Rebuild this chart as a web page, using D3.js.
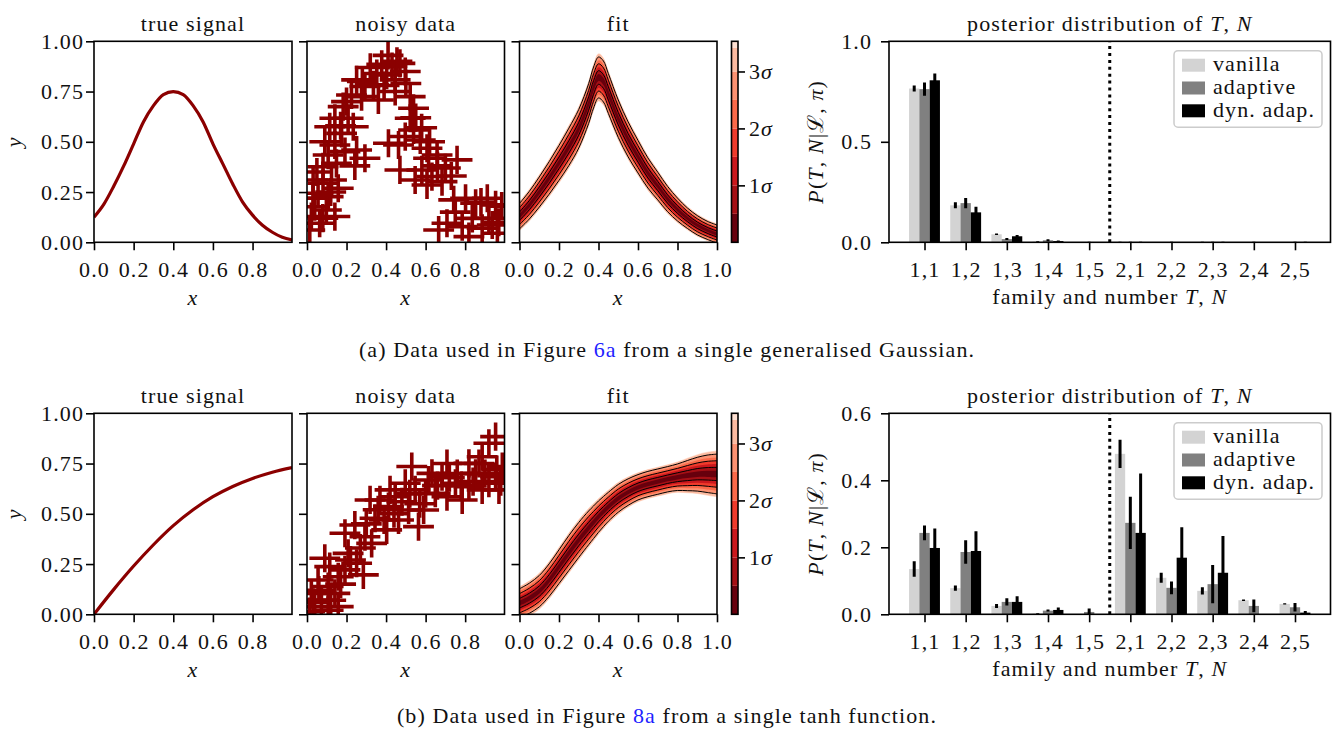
<!DOCTYPE html>
<html><head><meta charset="utf-8">
<script src="https://cdn.jsdelivr.net/npm/d3@7"></script>
<style>body{margin:0;background:#fff;} svg{display:block;}</style>
</head><body><script>
// ---------------- DATA ----------------
const signalX = [0,0.05,0.1,0.15,0.2,0.25,0.3,0.35,0.4,0.45,0.5,0.55,0.6,0.65,0.7,0.75,0.8,0.85,0.9,0.95,0.999];
const gaussTrue = [0.125,0.19,0.28,0.38,0.49,0.6,0.68,0.735,0.75,0.735,0.68,0.6,0.49,0.39,0.29,0.2,0.135,0.085,0.05,0.025,0.012];
const tanhX = [0,0.1,0.2,0.3,0.4,0.5,0.6,0.7,0.8,0.9,0.999];
const tanhTrue = [0,0.124,0.24,0.346,0.441,0.52,0.585,0.636,0.676,0.707,0.73];

const noisyGauss = [[0.378,0.885],[0.43,0.874],[0.47,0.89],[0.353,0.84],[0.403,0.832],[0.446,0.808],[0.497,0.85],[0.251,0.808],[0.293,0.775],[0.336,0.783],[0.225,0.733],[0.276,0.725],[0.361,0.708],[0.446,0.75],[0.522,0.725],[0.539,0.667],[0.183,0.675],[0.208,0.617],[0.141,0.617],[0.115,0.575],[0.175,0.542],[0.234,0.575],[0.522,0.617],[0.539,0.559],[0.497,0.526],[0.412,0.493],[0.463,0.484],[0.573,0.509],[0.607,0.468],[0.141,0.484],[0.192,0.451],[0.251,0.459],[0.293,0.418],[0.107,0.434],[0.149,0.393],[0.081,0.376],[0.031,0.31],[0.081,0.294],[0.124,0.31],[0.158,0.269],[0.056,0.244],[0.107,0.227],[0.039,0.177],[0.098,0.161],[0.141,0.128],[0.022,0.128],[0.064,0.095],[0.014,0.061],[0.47,0.36],[0.615,0.418],[0.658,0.434],[0.759,0.41],[0.581,0.36],[0.632,0.327],[0.683,0.302],[0.607,0.285],[0.547,0.31],[0.742,0.211],[0.802,0.219],[0.853,0.194],[0.912,0.219],[0.954,0.186],[0.708,0.095],[0.785,0.078],[0.836,0.119],[0.886,0.07],[0.937,0.086],[0.963,0.045],[0.666,0.061],[0.819,0.028],[0.242,0.38],[0.32,0.87],[0.41,0.93],[0.455,0.9],[0.28,0.8],[0.39,0.78],[0.5,0.79],[0.55,0.62],[0.58,0.57],[0.62,0.5],[0.66,0.38],[0.7,0.37],[0.73,0.33],[0.2,0.7],[0.17,0.58],[0.09,0.5],[0.05,0.35],[0.12,0.25],[0.03,0.22],[0.08,0.12],[0.88,0.2],[0.92,0.12],[0.97,0.1],[0.75,0.15],[0.985,0.18]];
const noisyTanh = [[0.039,0.038],[0.022,0.104],[0.073,0.071],[0.107,0.138],[0.056,0.171],[0.141,0.104],[0.158,0.187],[0.115,0.237],[0.192,0.221],[0.251,0.254],[0.285,0.196],[0.208,0.303],[0.09,0.279],[0.158,0.038],[0.014,0.013],[0.107,0.02],[0.192,0.403],[0.242,0.444],[0.293,0.386],[0.344,0.478],[0.369,0.569],[0.412,0.536],[0.446,0.585],[0.403,0.42],[0.463,0.469],[0.53,0.735],[0.497,0.652],[0.547,0.619],[0.514,0.519],[0.564,0.436],[0.59,0.519],[0.615,0.668],[0.649,0.602],[0.683,0.685],[0.708,0.585],[0.751,0.652],[0.785,0.569],[0.819,0.751],[0.853,0.701],[0.886,0.784],[0.92,0.851],[0.954,0.884],[0.954,0.685],[0.971,0.619],[0.886,0.619],[0.819,0.635],[0.988,0.735],[0.92,0.652],[0.319,0.569],[0.327,0.353],[0.632,0.701],[0.708,0.75],[0.42,0.619],[0.39,0.47],[0.03,0.06],[0.06,0.12],[0.12,0.07],[0.17,0.15],[0.22,0.27],[0.27,0.33],[0.3,0.45],[0.36,0.52],[0.44,0.5],[0.48,0.56],[0.52,0.6],[0.57,0.55],[0.6,0.6],[0.66,0.64],[0.72,0.68],[0.78,0.64],[0.84,0.66],[0.9,0.7],[0.96,0.72],[0.98,0.66],[0.87,0.75],[0.76,0.7]];
const noisyXErr = 0.078;
const noisyYErr = 0.07;

const fitX = [0,0.05,0.1,0.15,0.2,0.25,0.3,0.35,0.375,0.4,0.425,0.45,0.5,0.55,0.6,0.65,0.7,0.75,0.8,0.85,0.9,0.95,1.0];
const gaussFitMid = [0.13,0.185,0.25,0.32,0.395,0.475,0.565,0.69,0.77,0.82,0.8,0.74,0.615,0.512,0.426,0.345,0.28,0.215,0.163,0.12,0.085,0.06,0.041];
const gaussFitSig = [0.021,0.023,0.025,0.027,0.029,0.031,0.032,0.033,0.034,0.034,0.034,0.033,0.031,0.029,0.027,0.025,0.023,0.021,0.019,0.017,0.016,0.015,0.015];
const tanhFitMid = [0.055,0.08,0.115,0.17,0.237,0.305,0.37,0.43,0.458,0.486,0.511,0.535,0.577,0.608,0.632,0.648,0.66,0.672,0.682,0.69,0.697,0.699,0.698];
const tanhFitSig = [0.024,0.025,0.026,0.027,0.028,0.029,0.029,0.028,0.027,0.026,0.025,0.024,0.023,0.022,0.021,0.021,0.021,0.021,0.022,0.025,0.028,0.031,0.033];
const sigmaLevels = [0,0.5,1,1.5,2,2.5,3,3.42,3.53];
const sigmaTicks = [1,2,3];

const xTicksData = [0,0.2,0.4,0.6,0.8];
const xTicksFit = [0,0.2,0.4,0.6,0.8,1.0];
const yTicks = [0,0.25,0.5,0.75,1.0];

const categories = ["1,1","1,2","1,3","1,4","1,5","2,1","2,2","2,3","2,4","2,5"];
const methods = ["vanilla","adaptive","dyn. adap."];

const gaussVanilla    = [0.765,0.184,0.04,0.003,0.001,0.001,0.001,0.001,0.001,0.001];
const gaussVanillaErr = [0.015,0.015,0.004,0.002,0.001,0.002,0.001,0.002,0.001,0.001];
const gaussAdaptive    = [0.762,0.195,0.016,0.01,0.001,0.001,0.001,0.001,0.001,0.001];
const gaussAdaptiveErr = [0.033,0.026,0.005,0.005,0.002,0.002,0.002,0.002,0.002,0.002];
const gaussDyn    = [0.806,0.149,0.03,0.006,0.001,0.001,0.001,0.001,0.001,0.001];
const gaussDynErr = [0.034,0.028,0.006,0.003,0.001,0.002,0.001,0.002,0.001,0.002];

const tanhVanilla    = [0.135,0.078,0.025,0.002,0.0,0.479,0.109,0.07,0.042,0.031];
const tanhVanillaErr = [0.023,0.008,0.006,0.001,0.0,0.042,0.015,0.011,0.002,0.002];
const tanhAdaptive    = [0.243,0.186,0.037,0.011,0.007,0.273,0.079,0.09,0.025,0.021];
const tanhAdaptiveErr = [0.022,0.035,0.011,0.003,0.01,0.078,0.019,0.057,0.019,0.013];
const tanhDyn    = [0.198,0.189,0.037,0.013,0.0,0.243,0.169,0.124,0.0,0.005];
const tanhDynErr = [0.058,0.059,0.017,0.007,0.0,0.177,0.091,0.11,0.0,0.005];

const barTicksTop = [0,0.5,1.0];
const barTicksBottom = [0,0.2,0.4,0.6];

// ---------------- STYLE / LAYOUT ----------------
const FONT = '"Liberation Serif"';
const FS = 22;
const LS = 1.1;
const DARKRED = "#8b0000";
const BAR_COLORS = ["#d3d3d3","#808080","#000000"];
const BAND_COLORS = d3.schemeReds[9].slice().reverse().slice(0,8);
const ROWS = [{y0:41.3,y1:242.3},{y0:413.3,y1:614.3}];
const P1=[94,292], P2=[307,504.5], P3=[519.5,717], CB=[731.5,738], PB=[889,1330.5];
const TICK = 8, LW = 1.6;

const svg = d3.select("body").append("svg").attr("width",1335).attr("height",731)
  .attr("font-family",FONT).attr("font-size",FS).attr("letter-spacing",LS);
const defs = svg.append("defs");
let clipId = 0;
function clip(x0,x1,y0,y1){
  const id = "clip"+(clipId++);
  defs.append("clipPath").attr("id",id).append("rect").attr("x",x0).attr("y",y0).attr("width",x1-x0).attr("height",y1-y0);
  return "url(#"+id+")";
}
function styleAxis(a){
  a.attr("font-family",FONT).attr("font-size",FS);
  a.select(".domain").remove();
  a.selectAll(".tick line").attr("stroke","#000").attr("stroke-width",LW);
  a.selectAll(".tick text").attr("fill","#111").attr("font-family",FONT).attr("font-size",FS).attr("letter-spacing",LS);
}
function frame(x0,x1,y0,y1){
  svg.append("rect").attr("x",x0).attr("y",y0).attr("width",x1-x0).attr("height",y1-y0)
    .attr("fill","none").attr("stroke","#000").attr("stroke-width",LW);
}
function rich(x,y,parts,anchor,rot){
  const t = svg.append("text").attr("text-anchor",anchor||"middle").attr("fill","#111")
    .attr("font-family",FONT).attr("font-size",FS).attr("letter-spacing",LS)
    .attr("transform","translate("+x+","+y+")"+(rot?" rotate("+rot+")":""));
  parts.forEach(p=>{
    const s = t.append("tspan").text(p[0]);
    if(p[1]) s.attr("font-style","italic");
    if(p[2]) s.attr("fill",p[2]);
  });
  return t;
}
function xAxisAt(scale,ticks,fmt,y1){
  const a = svg.append("g").attr("transform","translate(0,"+y1+")")
    .call(d3.axisBottom(scale).tickValues(ticks).tickSize(TICK).tickPadding(11).tickFormat(fmt));
  styleAxis(a); return a;
}
function yAxisAt(scale,ticks,fmt,x0,pad){
  const a = svg.append("g").attr("transform","translate("+x0+",0)")
    .call(d3.axisLeft(scale).tickValues(ticks).tickSize(TICK).tickPadding(pad).tickFormat(fmt));
  styleAxis(a); return a;
}

function drawRow(r, cfg){
  const {y0,y1} = ROWS[r];
  const ys = d3.scaleLinear([0,1],[y1,y0]);
  const f2 = d3.format(".2f"), f1 = d3.format(".1f");

  // ---- panel 1: true signal
  const xs1 = d3.scaleLinear([0,0.999],P1);
  svg.append("path").datum(d3.zip(cfg.trueX,cfg.trueY))
    .attr("d",d3.line().x(d=>xs1(d[0])).y(d=>ys(d[1])).curve(d3.curveMonotoneX))
    .attr("fill","none").attr("stroke",DARKRED).attr("stroke-width",3.2)
    .attr("clip-path",clip(P1[0],P1[1],y0,y1));
  xAxisAt(xs1,xTicksData,f1,y1);
  yAxisAt(ys,yTicks,f2,P1[0],2);
  frame(P1[0],P1[1],y0,y1);
  rich((P1[0]+P1[1])/2,y0-10,[["true signal"]]);
  rich((P1[0]+P1[1])/2,y1+63,[["x",true]]);
  rich(21,(y0+y1)/2,[["y",true]],"middle",-90);

  // ---- panel 2: noisy data
  const xs2 = d3.scaleLinear([0,0.999],P2);
  const g2 = svg.append("g").attr("clip-path",clip(P2[0],P2[1],y0,y1));
  cfg.noisy.forEach(p=>{
    g2.append("line").attr("x1",xs2(p[0]-noisyXErr)).attr("x2",xs2(p[0]+noisyXErr))
      .attr("y1",ys(p[1])).attr("y2",ys(p[1])).attr("stroke",DARKRED).attr("stroke-width",3.6);
    g2.append("line").attr("x1",xs2(p[0])).attr("x2",xs2(p[0]))
      .attr("y1",ys(p[1]-noisyYErr)).attr("y2",ys(p[1]+noisyYErr)).attr("stroke",DARKRED).attr("stroke-width",3.6);
  });
  xAxisAt(xs2,xTicksData,f1,y1);
  yAxisAt(ys,yTicks,()=>"",P2[0],3);
  frame(P2[0],P2[1],y0,y1);
  rich((P2[0]+P2[1])/2,y0-10,[["noisy data"]]);
  rich((P2[0]+P2[1])/2,y1+63,[["x",true]]);

  // ---- panel 3: fit
  const xs3 = d3.scaleLinear([0,1],P3);
  const g3 = svg.append("g").attr("clip-path",clip(P3[0],P3[1],y0,y1));
  const pts = fitX.map((x,i)=>({x,m:cfg.mid[i],s:cfg.sig[i]}));
  const crv = d3.curveCatmullRom.alpha(0.5);
  for(let i=sigmaLevels.length-1;i>=1;i--){
    const L = sigmaLevels[i];
    g3.append("path").datum(pts)
      .attr("d",d3.area().x(d=>xs3(d.x)).y0(d=>ys(d.m-L*d.s)).y1(d=>ys(d.m+L*d.s)).curve(crv))
      .attr("fill",BAND_COLORS[i-1]);
  }
  sigmaTicks.forEach(k=>{
    [-1,1].forEach(sg=>{
      g3.append("path").datum(pts)
        .attr("d",d3.line().x(d=>xs3(d.x)).y(d=>ys(d.m+sg*k*d.s)).curve(crv))
        .attr("fill","none").attr("stroke","#000").attr("stroke-width",1);
    });
  });
  xAxisAt(xs3,xTicksFit,f1,y1);
  yAxisAt(ys,yTicks,()=>"",P3[0],3);
  frame(P3[0],P3[1],y0,y1);
  rich((P3[0]+P3[1])/2,y0-10,[["fit"]]);
  rich((P3[0]+P3[1])/2,y1+63,[["x",true]]);

  // ---- colorbar
  const yc = d3.scaleLinear([sigmaLevels[0],sigmaLevels[sigmaLevels.length-1]],[y1,y0]);
  for(let i=0;i<sigmaLevels.length-1;i++){
    svg.append("rect").attr("x",CB[0]).attr("width",CB[1]-CB[0])
      .attr("y",yc(sigmaLevels[i+1])).attr("height",yc(sigmaLevels[i])-yc(sigmaLevels[i+1]))
      .attr("fill",BAND_COLORS[i]);
  }
  const ca = svg.append("g").attr("transform","translate("+CB[1]+",0)")
    .call(d3.axisRight(yc).tickValues(sigmaTicks).tickSize(7).tickPadding(4));
  styleAxis(ca);
  ca.selectAll(".tick text").each(function(d){
    const t=d3.select(this); t.text(d); t.append("tspan").attr("font-style","italic").text("σ");
  });
  frame(CB[0],CB[1],y0,y1);

  // ---- bar chart
  const xb = d3.scaleLinear([-0.8625,9.8625],PB);
  const yb = d3.scaleLinear([0,cfg.barMax],[y1,y0]);
  const gb = svg.append("g").attr("clip-path",clip(PB[0],PB[1],y0,y1));
  gb.append("line").attr("x1",xb(4.5)).attr("x2",xb(4.5)).attr("y1",yb(0)).attr("y2",yb(cfg.barMax))
    .attr("stroke","#000").attr("stroke-width",3).attr("stroke-dasharray","3,3.9");
  const bw = 0.25;
  cfg.bars.forEach((ser,m)=>{
    const off = (m-1)*bw;
    gb.selectAll(null).data(ser.v).enter().append("rect")
      .attr("x",(d,i)=>xb(i+off-bw/2)).attr("width",xb(bw)-xb(0))
      .attr("y",d=>yb(d)).attr("height",d=>yb(0)-yb(d))
      .attr("fill",BAR_COLORS[m]);
  });
  cfg.bars.forEach((ser,m)=>{
    const off = (m-1)*bw;
    gb.selectAll(null).data(ser.v).enter().append("line")
      .attr("x1",(d,i)=>xb(i+off)).attr("x2",(d,i)=>xb(i+off))
      .attr("y1",(d,i)=>yb(d-ser.e[i])).attr("y2",(d,i)=>yb(d+ser.e[i]))
      .attr("stroke","#000").attr("stroke-width",3);
  });
  xAxisAt(xb,d3.range(categories.length),i=>categories[i],y1);
  yAxisAt(yb,cfg.barTicks,f1,PB[0],9);
  frame(PB[0],PB[1],y0,y1);
  rich((PB[0]+PB[1])/2,y0-10,[["posterior distribution of "],["T",true],[", "],["N",true]]);
  rich((PB[0]+PB[1])/2,y1+62,[["family and number "],["T",true],[", "],["N",true]]);
  rich(823,(y0+y1)/2,[["P",true],["("],["T",true],[", "],["N",true],["|ℒ, "],["π",true],[")"]],"middle",-90);

  // legend
  const lx = 1174, ly = cfg.legendY, lw = 148, lh = 76.5;
  svg.append("rect").attr("x",lx).attr("y",ly).attr("width",lw).attr("height",lh).attr("rx",4)
    .attr("fill","#fff").attr("fill-opacity",0.8).attr("stroke","#cccccc").attr("stroke-width",1.5);
  methods.forEach((name,m)=>{
    const cy = ly + 14.5 + m*22.8;
    svg.append("rect").attr("x",lx+8).attr("y",cy-6.5).attr("width",23).attr("height",13).attr("fill",BAR_COLORS[m]);
    svg.append("text").attr("x",lx+39).attr("y",cy+6).attr("fill","#111")
      .attr("font-family",FONT).attr("font-size",FS).attr("letter-spacing",LS).text(name);
  });

  // caption
  rich(667,cfg.captionY,cfg.caption);
}

drawRow(0,{
  trueX: signalX, trueY: gaussTrue, noisy: noisyGauss, mid: gaussFitMid, sig: gaussFitSig,
  bars: [{v:gaussVanilla,e:gaussVanillaErr},{v:gaussAdaptive,e:gaussAdaptiveErr},{v:gaussDyn,e:gaussDynErr}],
  barMax: 1.0, barTicks: barTicksTop, legendY: 50.7, captionY: 357,
  caption: [["(a) Data used in Figure "],["6a",false,"#1f1fff"],[" from a single generalised Gaussian."]]
});
drawRow(1,{
  trueX: tanhX, trueY: tanhTrue, noisy: noisyTanh, mid: tanhFitMid, sig: tanhFitSig,
  bars: [{v:tanhVanilla,e:tanhVanillaErr},{v:tanhAdaptive,e:tanhAdaptiveErr},{v:tanhDyn,e:tanhDynErr}],
  barMax: 0.6, barTicks: barTicksBottom, legendY: 422.7, captionY: 723,
  caption: [["(b) Data used in Figure "],["8a",false,"#1f1fff"],[" from a single tanh function."]]
});
</script></body></html>
